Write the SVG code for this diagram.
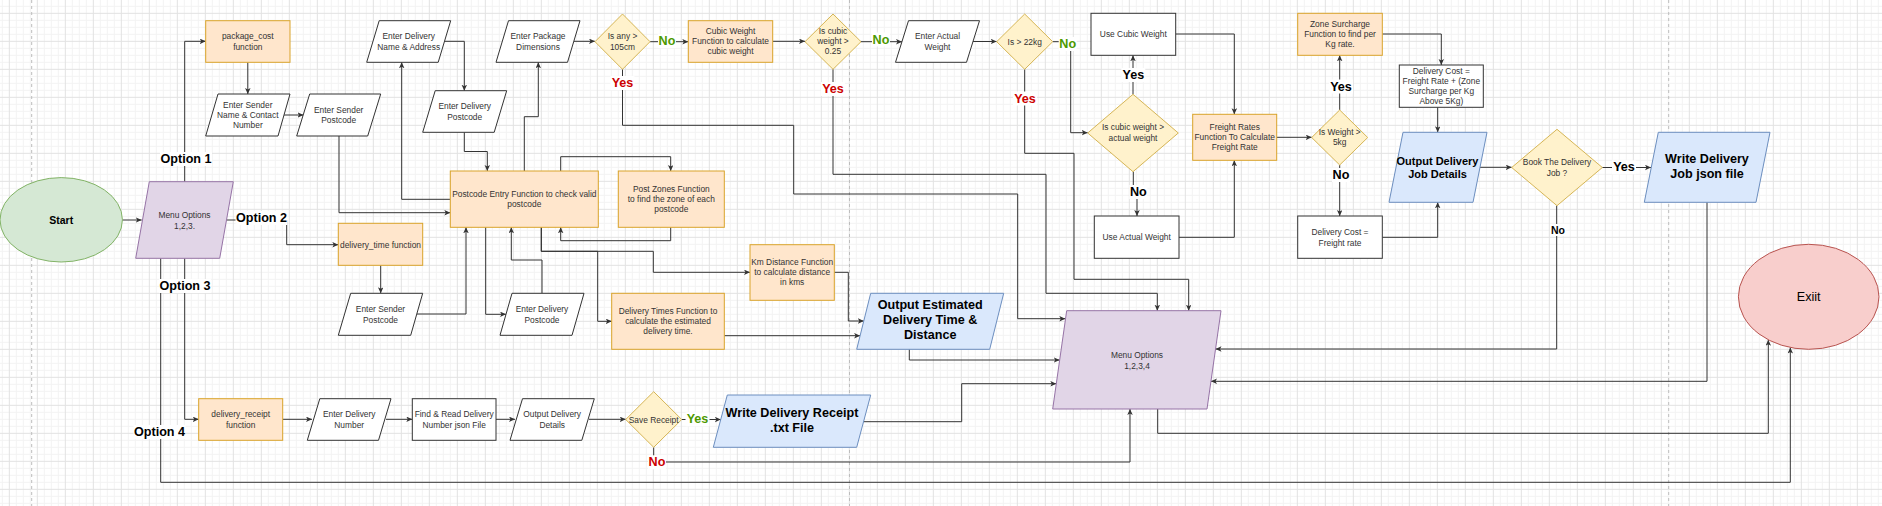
<svg xmlns="http://www.w3.org/2000/svg" width="1882" height="506" viewBox="0 0 1882 506">
<style>
.t{font-family:"Liberation Sans",Arial,sans-serif;font-size:8.4px;fill:#333;text-anchor:middle;dominant-baseline:central}
.b{font-family:"Liberation Sans",Arial,sans-serif;font-weight:bold;font-size:12.6px;fill:#000;text-anchor:middle;dominant-baseline:central}
.sm{font-size:10.5px}
.g{fill:#4d9900}.r{fill:#cc0000}
.or{fill:#ffe6cc;stroke:#d9a32a;stroke-width:1}
.yl{fill:#fff2cc;stroke:#d6b656;stroke-width:1}
.bl{fill:#dae8fc;stroke:#6c8ebf;stroke-width:1}
.pu{fill:#e1d5e7;stroke:#9673a6;stroke-width:1}
.gr{fill:#d5e8d4;stroke:#82b366;stroke-width:1}
.rd{fill:#f8cecc;stroke:#b85450;stroke-width:1}
.wh{fill:#fff;stroke:#333;stroke-width:1}
#edges path{fill:none;stroke:#333;stroke-width:1;marker-end:url(#a)}
.lb{fill:#fff}
</style>
<defs>
<marker id="a" markerWidth="8" markerHeight="8" refX="6" refY="2.75" orient="auto" markerUnits="userSpaceOnUse"><path d="M0,0 L6,2.75 L0,5.5 L1.5,2.75 z" fill="#333"/></marker>
<pattern id="grid" width="28" height="28" patternUnits="userSpaceOnUse" x="8.83" y="12.83">
<path d="M7.5,0V28M14.5,0V28M21.5,0V28M0,7.5H28M0,14.5H28M0,21.5H28" stroke="#f3f3f3" stroke-width="1" fill="none"/>
<path d="M0.5,0V28M0,0.5H28" stroke="#e2e2e2" stroke-width="1" fill="none"/>
</pattern>
</defs>
<rect width="1882" height="506" fill="#fff"/>
<rect width="1882" height="506" fill="url(#grid)"/>
<g stroke="#bdbdbd" stroke-dasharray="3,3" stroke-width="1">
<path d="M31.7,0V506M849.5,0V506M1668.7,0V506"/>
</g>

<g id="edges">
<path d="M122.3,220H141.7"/>
<path d="M184.7,181.7V41.3H205.7"/>
<path d="M226.7,220H286.7V244.7H338.3"/>
<path d="M184.7,258.3V419.3H198.7"/>
<path d="M160.7,258.3V482.3H1790.3V347.5"/>
<path d="M247.8,62.3V94"/>
<path d="M284,115H303.5"/>
<path d="M339,136V212.7H450.3"/>
<path d="M450.3,199.3H401.7V62.3"/>
<path d="M444.7,41.3H464.3V90.7"/>
<path d="M464.3,132.3V151.5H487.3V171"/>
<path d="M524.3,171V116.7H538.3V62.3"/>
<path d="M574,41.3H595"/>
<path d="M650,41.7H688.3"/>
<path d="M622.5,69.3V125.3H793.7V194H1017.7V318.7H1065.3"/>
<path d="M772.7,41.3H805"/>
<path d="M833,69.3V174.3H1046V293.3H1157.3V310.7"/>
<path d="M861,41.7H902"/>
<path d="M972.5,41.5H996.7"/>
<path d="M1052.7,41.7H1070.7V132.7H1087.7"/>
<path d="M1024.7,69.3V153.3H1074V279.3H1188.7V310.7"/>
<path d="M1133,94.3V55.3"/>
<path d="M1133.3,171.7V192H1137V216"/>
<path d="M1175.7,34H1234.3V114.3"/>
<path d="M1179,237.3H1234.3V160.3"/>
<path d="M1276.7,137.3H1311.7"/>
<path d="M1339.7,110V55.3"/>
<path d="M1339.7,165V216"/>
<path d="M1382.3,34H1441.3V65"/>
<path d="M1437.7,107.3V132.3"/>
<path d="M1382.3,237.3H1437.7V202.3"/>
<path d="M1480,167.3H1511.7"/>
<path d="M1602.3,167.5H1651"/>
<path d="M1556.7,205.7V349H1215.5"/>
<path d="M1707,202.3V381.3H1211"/>
<path d="M560.7,171V156.7H670.7V171"/>
<path d="M670.7,227.3V240.7H560.7V227.3"/>
<path d="M380.7,265.3V293.3"/>
<path d="M416.8,314H466V227.3"/>
<path d="M485.7,227.3V314.3H506"/>
<path d="M542,293.3V260H511.3V227.3"/>
<path d="M541.3,227.3V251.3H597.7V321.3H611.7"/>
<path d="M541.3,227.3V251.3H653.3V272.3H750"/>
<path d="M834.3,272.3H848.3V321H863.8"/>
<path d="M724.3,335.7H860.1"/>
<path d="M909.3,349.3V360H1059.7"/>
<path d="M282.7,419.3H312"/>
<path d="M386,419.3H412.3"/>
<path d="M496,419.3H515"/>
<path d="M589,419.3H625.7"/>
<path d="M681.7,419.5H720.8"/>
<path d="M863.5,421.7H961.7V383.7H1056.3"/>
<path d="M653.7,447.3V462H1130V409"/>
<path d="M1157.7,409V433.3H1768.3V339.8"/>
</g>

<g id="edge-labels">
<rect class="lb" x="160" y="152" width="52" height="14"/><text class="b" x="186" y="159">Option 1</text>
<rect class="lb" x="235.5" y="211" width="52" height="14"/><text class="b" x="261.5" y="218">Option 2</text>
<rect class="lb" x="159" y="279" width="52" height="14"/><text class="b" x="185" y="286">Option 3</text>
<rect class="lb" x="133.5" y="425" width="52" height="14"/><text class="b" x="159.5" y="432">Option 4</text>
<rect class="lb" x="658" y="34" width="18" height="14"/><text class="b g" x="667" y="41">No</text>
<rect class="lb" x="610.5" y="76" width="24" height="14"/><text class="b r" x="622.5" y="83.3">Yes</text>
<rect class="lb" x="872" y="32.5" width="18" height="14"/><text class="b g" x="881" y="39.5">No</text>
<rect class="lb" x="821" y="82" width="24" height="14"/><text class="b r" x="833" y="89.3">Yes</text>
<rect class="lb" x="1058.7" y="37" width="18" height="14"/><text class="b g" x="1067.7" y="44">No</text>
<rect class="lb" x="1013" y="91.5" width="24" height="14"/><text class="b r" x="1025" y="98.7">Yes</text>
<rect class="lb" x="1121.3" y="68" width="24" height="14"/><text class="b" x="1133.3" y="75.3">Yes</text>
<rect class="lb" x="1129.3" y="185" width="18" height="14"/><text class="b" x="1138.3" y="192.3">No</text>
<rect class="lb" x="1329" y="79.5" width="24" height="14"/><text class="b" x="1341" y="86.7">Yes</text>
<rect class="lb" x="1332" y="168" width="18" height="14"/><text class="b" x="1341" y="175">No</text>
<rect class="lb" x="1612" y="160.3" width="24" height="14"/><text class="b" x="1624" y="167.3">Yes</text>
<rect class="lb" x="1550" y="224" width="16" height="12"/><text class="b sm" x="1558" y="230">No</text>
<rect class="lb" x="685.5" y="412.3" width="24" height="14"/><text class="b g" x="697.5" y="419.3">Yes</text>
<rect class="lb" x="648" y="455.3" width="18" height="14"/><text class="b r" x="657" y="462.3">No</text>
</g>

<g id="start"><ellipse class="gr" cx="61.2" cy="219.8" rx="61.2" ry="42.2"/><text class="b" style="font-size:10.5px" x="61.2" y="220">Start</text></g>
<g id="menu1"><polygon class="pu" points="149.3,181.7 233.3,181.7 219.7,258.3 135.7,258.3"/><text class="t" x="184.5" y="215.3">Menu Options</text><text class="t" x="184.5" y="225.5">1,2,3.</text></g>
<g id="pkgcost"><rect class="or" x="205.7" y="20.7" width="84.3" height="41.6"/><text class="t" x="247.8" y="36.3">package_cost</text><text class="t" x="247.8" y="46.8">function</text></g>
<g id="sendername"><polygon class="wh" points="218,94 290,94 278,136 205.7,136"/><text class="t" x="247.8" y="105">Enter Sender</text><text class="t" x="247.8" y="114.5">Name &amp; Contact</text><text class="t" x="247.8" y="125">Number</text></g>
<g id="senderpc1"><polygon class="wh" points="309.7,94 380.7,94 367.7,136 296.7,136"/><text class="t" x="338.7" y="110">Enter Sender</text><text class="t" x="338.7" y="120">Postcode</text></g>
<g id="delname"><polygon class="wh" points="379.2,20.7 450.7,20.7 438.2,62.3 366.7,62.3"/><text class="t" x="408.7" y="36.3">Enter Delivery</text><text class="t" x="408.7" y="46.8">Name &amp; Address</text></g>
<g id="delpc1"><polygon class="wh" points="435.2,90.7 506.7,90.7 494.2,132.3 422.7,132.3"/><text class="t" x="464.7" y="106">Enter Delivery</text><text class="t" x="464.7" y="117">Postcode</text></g>
<g id="pkgdim"><polygon class="wh" points="508.5,20.7 580,20.7 567.5,62.3 496,62.3"/><text class="t" x="538" y="36.3">Enter Package</text><text class="t" x="538" y="46.8">Dimensions</text></g>
<g id="postentry"><rect class="or" x="450.3" y="171" width="148" height="56.3"/><text class="t" x="524.3" y="194.3">Postcode Entry Function to check valid</text><text class="t" x="524.3" y="204.3">postcode</text></g>
<g id="postzones"><rect class="or" x="618.3" y="171" width="106" height="56.3"/><text class="t" x="671.3" y="189.3">Post Zones Function</text><text class="t" x="671.3" y="199.3">to find the zone of each</text><text class="t" x="671.3" y="209.3">postcode</text></g>
<g id="deltime"><rect class="or" x="338.3" y="223.3" width="84.4" height="42"/><text class="t" x="380.5" y="244.5">delivery_time function</text></g>
<g id="senderpc2"><polygon class="wh" points="350.7,293.3 422.7,293.3 410.7,335.3 338.3,335.3"/><text class="t" x="380.5" y="309.3">Enter Sender</text><text class="t" x="380.5" y="320">Postcode</text></g>
<g id="delpc2"><polygon class="wh" points="512,293.3 584,293.3 572,335.3 500,335.3"/><text class="t" x="542" y="309.3">Enter Delivery</text><text class="t" x="542" y="320">Postcode</text></g>
<g id="deltimes"><rect class="or" x="611.7" y="293.3" width="112.6" height="56"/><text class="t" x="668" y="311.3">Delivery Times Function to</text><text class="t" x="668" y="321.3">calculate the estimated</text><text class="t" x="668" y="331.3">delivery time.</text></g>
<g id="kmdist"><rect class="or" x="750" y="244.7" width="84.3" height="55.6"/><text class="t" x="792.2" y="262.3">Km Distance Function</text><text class="t" x="792.2" y="272.3">to calculate distance</text><text class="t" x="792.2" y="282.3">in kms</text></g>
<g id="outest"><polygon class="bl" points="870.7,293.3 1003.7,293.3 989.7,349.3 856.7,349.3"/><text class="b" x="930.2" y="305">Output Estimated</text><text class="b" x="930.2" y="320">Delivery Time &amp;</text><text class="b" x="930.2" y="335">Distance</text></g>
<g id="menu2"><polygon class="pu" points="1066.7,310.7 1221,310.7 1207,409 1052.7,409"/><text class="t" x="1137" y="355">Menu Options</text><text class="t" x="1137" y="365.7">1,2,3,4</text></g>
<g id="isany"><polygon class="yl" points="622.5,14 650,41.7 622.5,69.3 595,41.7"/><text class="t" x="622.5" y="36.3">Is any &gt;</text><text class="t" x="622.5" y="47">105cm</text></g>
<g id="cubicfn"><rect class="or" x="688.3" y="20.7" width="84.4" height="41.6"/><text class="t" x="730.5" y="31.3">Cubic Weight</text><text class="t" x="730.5" y="41.3">Function to calculate</text><text class="t" x="730.5" y="51.3">cubic weight</text></g>
<g id="iscubic"><polygon class="yl" points="833,14 861,41.7 833,69.3 805,41.7"/><text class="t" x="833" y="31.3">Is cubic</text><text class="t" x="833" y="41.3">weight &gt;</text><text class="t" x="833" y="51.3">0.25</text></g>
<g id="actualw"><polygon class="wh" points="908.5,20.7 979.5,20.7 966.5,62.3 895.5,62.3"/><text class="t" x="937.5" y="36.3">Enter Actual</text><text class="t" x="937.5" y="46.8">Weight</text></g>
<g id="is22"><polygon class="yl" points="1024.7,14 1052.7,41.7 1024.7,69.3 996.7,41.7"/><text class="t" x="1024.7" y="41.7">Is &gt; 22kg</text></g>
<g id="usecubic"><rect class="wh" x="1091" y="13.3" width="84.7" height="42"/><text class="t" x="1133.3" y="34">Use Cubic Weight</text></g>
<g id="iscva"><polygon class="yl" points="1133,94.3 1178.3,133 1133,171.7 1087.7,133"/><text class="t" x="1133" y="127.3">Is cubic weight &gt;</text><text class="t" x="1133" y="138">actual weight</text></g>
<g id="useactual"><rect class="wh" x="1094.3" y="216" width="84.7" height="42.3"/><text class="t" x="1136.7" y="237.3">Use Actual Weight</text></g>
<g id="freight"><rect class="or" x="1192.7" y="114.3" width="84" height="46"/><text class="t" x="1234.7" y="127.3">Freight Rates</text><text class="t" x="1234.7" y="137.3">Function To Calculate</text><text class="t" x="1234.7" y="147.3">Freight Rate</text></g>
<g id="is5"><polygon class="yl" points="1339.7,110 1367.7,137.5 1339.7,165 1311.7,137.5"/><text class="t" x="1339.7" y="132.3">Is Weight &gt;</text><text class="t" x="1339.7" y="142.3">5kg</text></g>
<g id="zone"><rect class="or" x="1297.7" y="13.3" width="84.6" height="42"/><text class="t" x="1340" y="24.3">Zone Surcharge</text><text class="t" x="1340" y="34.3">Function to find per</text><text class="t" x="1340" y="44.3">Kg rate.</text></g>
<g id="dcfr"><rect class="wh" x="1297.7" y="216" width="84.6" height="42.3"/><text class="t" x="1340" y="232.3">Delivery Cost =</text><text class="t" x="1340" y="243">Freight rate</text></g>
<g id="dcfull"><rect class="wh" x="1399.3" y="65" width="84" height="42.3"/><text class="t" x="1441.3" y="71.3">Delivery Cost =</text><text class="t" x="1441.3" y="81.3">Freight Rate + (Zone</text><text class="t" x="1441.3" y="91.3">Surcharge per Kg</text><text class="t" x="1441.3" y="101.3">Above 5Kg)</text></g>
<g id="outjob"><polygon class="bl" points="1403,132.3 1487,132.3 1473,202.3 1389,202.3"/><text class="b" style="font-size:11px" x="1437.5" y="161.3">Output Delivery</text><text class="b" style="font-size:11px" x="1437.5" y="174.3">Job Details</text></g>
<g id="book"><polygon class="yl" points="1557,129.3 1602.3,167.5 1557,205.7 1511.7,167.5"/><text class="t" x="1557" y="162.3">Book The Delivery</text><text class="t" x="1557" y="173.3">Job ?</text></g>
<g id="writejob"><polygon class="bl" points="1658.3,132.3 1770,132.3 1756,202.3 1644.3,202.3"/><text class="b" x="1707" y="159.3">Write Delivery</text><text class="b" x="1707" y="174.3">Job json file</text></g>
<g id="exit"><ellipse class="rd" cx="1808.7" cy="296.8" rx="70.3" ry="52.5"/><text class="t" style="font-size:12.6px;fill:#000" x="1808.7" y="296.8">Exiit</text></g>
<g id="receiptfn"><rect class="or" x="198.7" y="398.7" width="84" height="41.6"/><text class="t" x="240.7" y="414.3">delivery_receipt</text><text class="t" x="240.7" y="425">function</text></g>
<g id="delnum"><polygon class="wh" points="319.8,398.7 391,398.7 378.5,440.3 307.3,440.3"/><text class="t" x="349.2" y="414.3">Enter Delivery</text><text class="t" x="349.2" y="425">Number</text></g>
<g id="findread"><rect class="wh" x="412.3" y="398.7" width="83.7" height="41.6"/><text class="t" x="454.2" y="414.3">Find &amp; Read Delivery</text><text class="t" x="454.2" y="425">Number json File</text></g>
<g id="outdel"><polygon class="wh" points="522.5,398.7 594.3,398.7 581.8,440.3 510,440.3"/><text class="t" x="552.2" y="414.3">Output Delivery</text><text class="t" x="552.2" y="425">Details</text></g>
<g id="savercpt"><polygon class="yl" points="653.7,391.7 681.7,419.5 653.7,447.3 625.7,419.5"/><text class="t" x="653.7" y="419.5">Save Receipt</text></g>
<g id="writercpt"><polygon class="bl" points="727.3,395 870.7,395 856.7,447.3 713.3,447.3"/><text class="b" x="792" y="413.3">Write Delivery Receipt</text><text class="b" x="792" y="428">.txt File</text></g>
</svg>
